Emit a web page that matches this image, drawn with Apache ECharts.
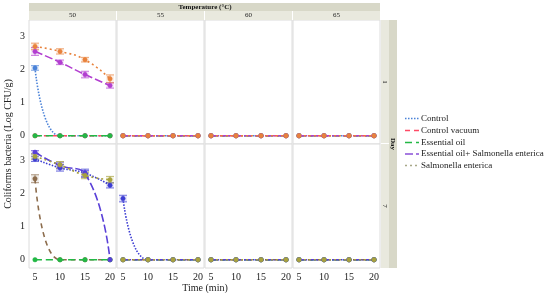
<!DOCTYPE html>
<html><head><meta charset="utf-8">
<script src="https://cdn.jsdelivr.net/npm/echarts@6/dist/echarts.min.js"></script>
<style>html,body{margin:0;padding:0;background:#fff}#c{width:550px;height:293px}</style>
</head><body><div id="c"></div>
<script>
// ---- data ----
const times = [5, 10, 15, 20];
const temps = ['50', '55', '60', '65'];
const days = ['1', '7'];
const seriesNames = ['Control', 'Control vacuum', 'Essential oil', 'Essential oil+ Salmonella enterica', 'Salmonella enterica'];
const yTicks = [0, 1, 2, 3];
// values: [day][temp][time]
const controlVals = [
  [[2.05, 0, 0, 0], [0, 0, 0, 0], [0, 0, 0, 0], [0, 0, 0, 0]],
  [[3.05, 2.78, 2.62, 2.25], [1.85, 0, 0, 0], [0, 0, 0, 0], [0, 0, 0, 0]]
];
const vacuumVals = [
  [[0, 0, 0, 0], [0, 0, 0, 0], [0, 0, 0, 0], [0, 0, 0, 0]],
  [[2.45, 0, 0, 0], [0, 0, 0, 0], [0, 0, 0, 0], [0, 0, 0, 0]]
];
const oilVals = [
  [[0, 0, 0, 0], [0, 0, 0, 0], [0, 0, 0, 0], [0, 0, 0, 0]],
  [[0, 0, 0, 0], [0, 0, 0, 0], [0, 0, 0, 0], [0, 0, 0, 0]]
];
const oilSalVals = [
  [[2.55, 2.22, 1.85, 1.52], [0, 0, 0, 0], [0, 0, 0, 0], [0, 0, 0, 0]],
  [[3.25, 2.85, 2.6, 0], [0, 0, 0, 0], [0, 0, 0, 0], [0, 0, 0, 0]]
];
const salVals = [
  [[2.7, 2.55, 2.3, 1.72], [0, 0, 0, 0], [0, 0, 0, 0], [0, 0, 0, 0]],
  [[3.12, 2.87, 2.55, 2.42], [0, 0, 0, 0], [0, 0, 0, 0], [0, 0, 0, 0]]
];
// standard errors [day][temp][time] (only non-zero shown)
const controlErr = [
  [[0.07, 0, 0, 0], [0, 0, 0, 0], [0, 0, 0, 0], [0, 0, 0, 0]],
  [[0.08, 0.1, 0.12, 0.08], [0.1, 0, 0, 0], [0, 0, 0, 0], [0, 0, 0, 0]]
];
const vacuumErr = [
  [[0, 0, 0, 0], [0, 0, 0, 0], [0, 0, 0, 0], [0, 0, 0, 0]],
  [[0.12, 0, 0, 0], [0, 0, 0, 0], [0, 0, 0, 0], [0, 0, 0, 0]]
];
const oilErr = [
  [[0, 0, 0, 0], [0, 0, 0, 0], [0, 0, 0, 0], [0, 0, 0, 0]],
  [[0, 0, 0, 0], [0, 0, 0, 0], [0, 0, 0, 0], [0, 0, 0, 0]]
];
const oilSalErr = [
  [[0.12, 0.07, 0.1, 0.08], [0, 0, 0, 0], [0, 0, 0, 0], [0, 0, 0, 0]],
  [[0.05, 0.1, 0.1, 0], [0, 0, 0, 0], [0, 0, 0, 0], [0, 0, 0, 0]]
];
const salErr = [
  [[0.1, 0.08, 0.07, 0.12], [0, 0, 0, 0], [0, 0, 0, 0], [0, 0, 0, 0]],
  [[0.08, 0.1, 0.1, 0.1], [0, 0, 0, 0], [0, 0, 0, 0], [0, 0, 0, 0]]
];

// ---- styles ----
const allVals = [controlVals, vacuumVals, oilVals, oilSalVals, salVals];
const allErr = [controlErr, vacuumErr, oilErr, oilSalErr, salErr];
const dayColors = [
  ['#4a82d8', '#ff4a66', '#22b845', '#b23ed0', '#e8823c'],
  ['#3c3cd2', '#8c6c4c', '#22b845', '#5a40d8', '#a8a23c']
];
const dashes = [[1.5, 1.5], [5, 4], [7, 4], [8, 3], [2, 3]];
const legendColors = ['#4a82d8', '#ff4a66', '#22b845', '#8a50d8', '#a8a888'];
const FONT = 'Liberation Serif';

const colLeft = [29, 117, 205, 293];
const colW = 87;
const rowTop = [20, 144];
const rowH = 124;

const grids = [], xAxes = [], yAxes = [], series = [];
for (let d = 0; d < 2; d++) {
  for (let t = 0; t < 4; t++) {
    const gi = d * 4 + t;
    grids.push({left: colLeft[t], top: rowTop[d], width: colW, height: rowH,
      show: true, borderColor: '#dcdcdc', borderWidth: 1, backgroundColor: '#fff'});
    xAxes.push({type: 'value', gridIndex: gi, min: 3.8, max: 21.2,
      axisLine: {show: false}, splitLine: {show: false},
      axisTick: {show: d === 1, length: 2, customValues: times, lineStyle: {color: '#aaa'}},
      axisLabel: {show: d === 1, customValues: times, fontFamily: FONT, fontSize: 10, color: '#222', margin: 4}});
    yAxes.push({type: 'value', gridIndex: gi, min: -0.25, max: 3.5,
      axisLine: {show: false}, splitLine: {show: false},
      axisTick: {show: false},
      axisLabel: {show: t === 0, customValues: yTicks, fontFamily: FONT, fontSize: 10, color: '#222', margin: 4}});
    for (let s = 0; s < 5; s++) {
      const col = dayColors[d][s];
      const vals = allVals[s][d][t];
      const errs = allErr[s][d][t];
      series.push({
        type: 'line', name: seriesNames[s], xAxisIndex: gi, yAxisIndex: gi,
        data: times.map((x, i) => [x, vals[i]]),
        smooth: 0.5, symbol: 'circle', symbolSize: 4.5,
        lineStyle: {color: col, width: 1.6, type: dashes[s]},
        itemStyle: {color: col, borderColor: col, borderWidth: 0.5},
        z: 3 + s, silent: true, animation: false
      });
      const eb = [];
      times.forEach((x, i) => { if (errs[i] > 0) eb.push([x, vals[i] - errs[i], vals[i] + errs[i]]); });
      if (eb.length) {
        series.push({
          type: 'custom', xAxisIndex: gi, yAxisIndex: gi, data: eb, z: 2, silent: true, animation: false,
          renderItem: function (params, api) {
            const x = api.value(0);
            const lo = api.coord([x, api.value(1)]);
            const hi = api.coord([x, api.value(2)]);
            const w = 4;
            return {type: 'group', children: [
              {type: 'rect', shape: {x: lo[0] - w, y: hi[1], width: 2 * w, height: lo[1] - hi[1]},
               style: {fill: col, opacity: 0.12}},
              {type: 'line', shape: {x1: lo[0], y1: lo[1], x2: hi[0], y2: hi[1]}, style: {stroke: col, lineWidth: 1, opacity: 0.7}},
              {type: 'line', shape: {x1: lo[0] - w, y1: lo[1], x2: lo[0] + w, y2: lo[1]}, style: {stroke: col, lineWidth: 1, opacity: 0.7}},
              {type: 'line', shape: {x1: hi[0] - w, y1: hi[1], x2: hi[0] + w, y2: hi[1]}, style: {stroke: col, lineWidth: 1, opacity: 0.7}}
            ]};
          }
        });
      }
    }
  }
}

// ---- strips, titles, legend ----
const graphic = [];
graphic.push({type: 'rect', shape: {x: 29, y: 3, width: 351, height: 8}, style: {fill: '#d8d8c8'}, silent: true});
graphic.push({type: 'rect', shape: {x: 29, y: 11, width: 351, height: 9}, style: {fill: '#e9e9de'}, silent: true});
graphic.push({type: 'text', x: 205, y: 7, style: {text: 'Temperature (°C)', font: 'bold 7px ' + FONT, fill: '#111', align: 'center', verticalAlign: 'middle'}, silent: true});
for (let t = 0; t < 4; t++) {
  graphic.push({type: 'text', x: colLeft[t] + colW / 2, y: 15.5, style: {text: temps[t], font: '7px ' + FONT, fill: '#222', align: 'center', verticalAlign: 'middle'}, silent: true});
  if (t > 0) graphic.push({type: 'line', shape: {x1: colLeft[t] - 0.5, y1: 11, x2: colLeft[t] - 0.5, y2: 20}, style: {stroke: '#fff', lineWidth: 1}, silent: true});
}
graphic.push({type: 'rect', shape: {x: 381, y: 20, width: 8, height: 248}, style: {fill: '#e9e9de'}, silent: true});
graphic.push({type: 'rect', shape: {x: 389, y: 20, width: 8, height: 248}, style: {fill: '#d8d8c8'}, silent: true});
graphic.push({type: 'line', shape: {x1: 381, y1: 143.5, x2: 389, y2: 143.5}, style: {stroke: '#fff', lineWidth: 1}, silent: true});
for (let d = 0; d < 2; d++) {
  graphic.push({type: 'text', x: 385, y: rowTop[d] + rowH / 2, rotation: -Math.PI / 2,
    style: {text: days[d], font: '7px ' + FONT, fill: '#222', align: 'center', verticalAlign: 'middle'}, silent: true});
}
graphic.push({type: 'text', x: 393, y: 144, rotation: -Math.PI / 2,
  style: {text: 'Day', font: 'bold 7px ' + FONT, fill: '#111', align: 'center', verticalAlign: 'middle'}, silent: true});
graphic.push({type: 'text', x: 8, y: 144, rotation: Math.PI / 2,
  style: {text: 'Coliforms bacteria (Log CFU/g)', font: '10px ' + FONT, fill: '#222', align: 'center', verticalAlign: 'middle'}, silent: true});
graphic.push({type: 'text', x: 205, y: 288, style: {text: 'Time (min)', font: '10px ' + FONT, fill: '#222', align: 'center', verticalAlign: 'middle'}, silent: true});
const legY = [118.5, 130.5, 142.5, 154, 165.5];
for (let s = 0; s < 5; s++) {
  graphic.push({type: 'line', shape: {x1: 405, y1: legY[s], x2: 419, y2: legY[s]},
    style: {stroke: legendColors[s], lineWidth: 1.6, lineDash: dashes[s]}, silent: true});
  graphic.push({type: 'text', x: 421, y: legY[s], style: {text: seriesNames[s], font: '9px ' + FONT, fill: '#222', align: 'left', verticalAlign: 'middle'}, silent: true});
}

const chart = echarts.init(document.getElementById('c'), null, {renderer: 'canvas'});
chart.setOption({
  animation: false,
  backgroundColor: '#fff',
  grid: grids, xAxis: xAxes, yAxis: yAxes, series: series, graphic: graphic
});
</script></body></html>
